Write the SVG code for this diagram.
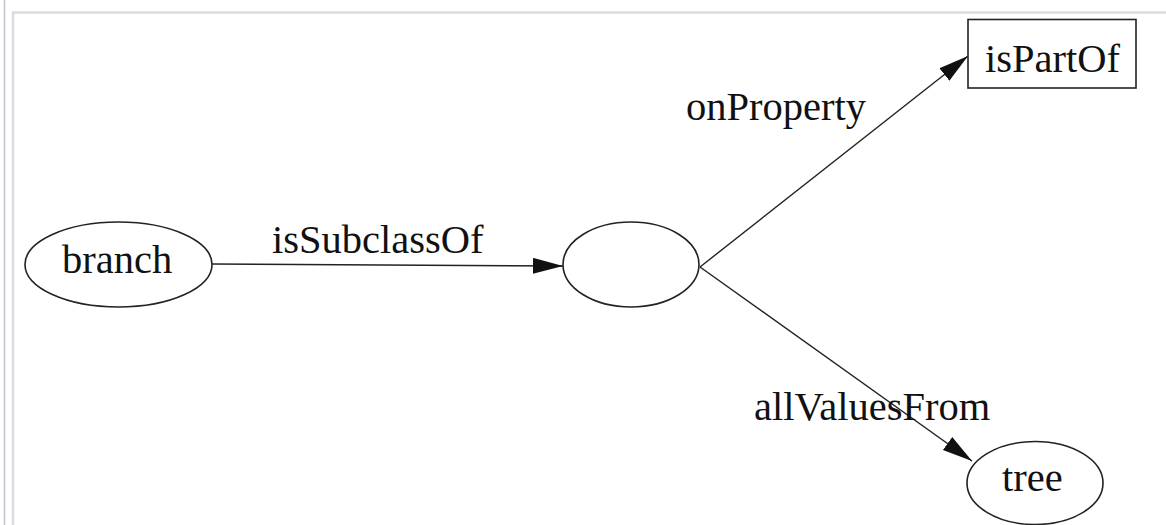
<svg xmlns="http://www.w3.org/2000/svg" width="1166" height="525" viewBox="0 0 1166 525">
  <style>
    .frame-outer { stroke: #c2c2cc; stroke-width: 1.5; fill: none; }
    .frame-inner { stroke: #dadae2; stroke-width: 2.5; fill: none; }
    .node { fill: #ffffff; stroke: #222222; stroke-width: 1.6; }
    .edge { stroke: #222222; stroke-width: 1.4; fill: none; }
    text { font-family: "Liberation Serif", "Times New Roman", serif; font-size: 40.5px; fill: #111111; }
  </style>
  <defs>
    <marker id="arrow" markerUnits="userSpaceOnUse" markerWidth="32" markerHeight="18" refX="30" refY="8" orient="auto">
      <path d="M0,0 L30,8 L0,16 z" fill="#111111"/>
    </marker>
  </defs>

  <rect width="1166" height="525" fill="#ffffff"/>

  <!-- page frame -->
  <line class="frame-outer" x1="4.5" y1="0" x2="4.5" y2="525"/>
  <polyline class="frame-inner" points="13,525 13,12.5 1166,12.5"/>

  <!-- connectors with their labels -->
  <g id="connectors">
    <line class="edge" x1="212" y1="264" x2="563" y2="266" marker-end="url(#arrow)"/>
    <line class="edge" x1="700" y1="267" x2="968" y2="56" marker-end="url(#arrow)"/>
    <line class="edge" x1="700" y1="267" x2="972" y2="461" marker-end="url(#arrow)"/>
    <text x="272" y="253">isSubclassOf</text>
    <text x="686" y="120">onProperty</text>
    <text x="754" y="420">allValuesFrom</text>
  </g>

  <g id="node-branch">
    <ellipse class="node" cx="118.5" cy="264.5" rx="93.5" ry="42.5"/>
    <text x="62" y="273">branch</text>
  </g>

  <g id="node-restriction">
    <ellipse class="node" cx="631" cy="264.5" rx="68" ry="42.5"/>
  </g>

  <g id="node-isPartOf">
    <rect class="node" x="968" y="19.5" width="168" height="68.5"/>
    <text x="985" y="72">isPartOf</text>
  </g>

  <g id="node-tree">
    <ellipse class="node" cx="1035" cy="483" rx="68" ry="41.5"/>
    <text x="1002" y="491">tree</text>
  </g>
</svg>
